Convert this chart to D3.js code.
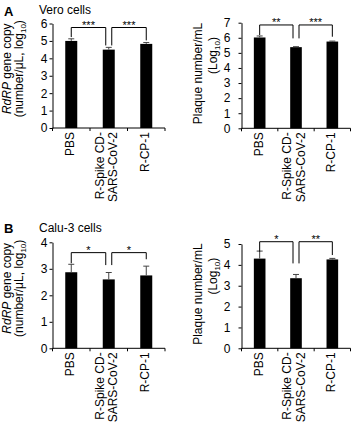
<!DOCTYPE html>
<meta charset="utf-8">
<head>
  <title>RdRP and plaque assays</title>
  <style>
    body { margin: 0; background: #fff; }
    text { font-family: "Liberation Sans", Arial, sans-serif; }
  </style>
  <script src="https://d3js.org/d3.v7.min.js"></script>
</head>
<body>
  <div id="content"></div>
  <script>
    // category labels (one entry per line)
    var categories = [["PBS"], ["R-Spike CD-", "SARS-CoV-2"], ["R-CP-1"]];

    // Vero cells
    var veroRdrp = [5.0, 4.5, 4.83];
    var veroRdrpErr = [0.12, 0.13, 0.08];
    var veroRdrpTicks = [0, 1, 2, 3, 4, 5, 6];
    var veroRdrpSig = [
      { from: 0, to: 1, label: "***", top: 5.77, ends: [5.22, 4.74] },
      { from: 1, to: 2, label: "***", top: 5.77, ends: [4.74, 5.03] }
    ];

    var veroPlaque = [6.02, 5.38, 5.75];
    var veroPlaqueErr = [0.1, 0.03, 0.03];
    var veroPlaqueTicks = [0, 1, 2, 3, 4, 5, 6, 7];
    var veroPlaqueSig = [
      { from: 0, to: 1, label: "**", top: 6.85, ends: [6.18, 5.96] },
      { from: 1, to: 2, label: "***", top: 6.85, ends: [5.96, 6.07] }
    ];

    // Calu-3 cells
    var caluRdrp = [2.87, 2.6, 2.75];
    var caluRdrpErr = [0.3, 0.26, 0.35];
    var caluRdrpTicks = [0, 1, 2, 3, 4];
    var caluRdrpSig = [
      { from: 0, to: 1, label: "*", top: 3.61, ends: [3.21, 3.14] },
      { from: 1, to: 2, label: "*", top: 3.61, ends: [3.14, 3.36] }
    ];

    var caluPlaque = [4.3, 3.36, 4.26];
    var caluPlaqueErr = [0.36, 0.18, 0.05];
    var caluPlaqueTicks = [0, 1, 2, 3, 4, 5];
    var caluPlaqueSig = [
      { from: 0, to: 1, label: "*", top: 5.11, ends: [4.63, 4.07] },
      { from: 1, to: 2, label: "**", top: 5.11, ends: [4.07, 4.47] }
    ];

    var svg = d3.select('#content').append('svg')
      .attr('width', 355)
      .attr('height', 433);

    svg.append('rect').attr('width', 355).attr('height', 433).attr('fill', '#fff');

    function drawPanel(p) {
      var g = svg.append('g');
      var x = d3.scaleBand()
        .domain(d3.range(categories.length))
        .range([p.left, p.right])
        .padding(0);
      var y = d3.scaleLinear()
        .domain([0, d3.max(p.ticks)])
        .range([p.bottom, p.top]);
      var bw = x.bandwidth() * 0.32;
      var cx = function (i) { return x(i) + x.bandwidth() / 2; };

      // bars
      g.selectAll('rect.bar').data(p.values).enter().append('rect')
        .attr('x', function (d, i) { return cx(i) - bw / 2; })
        .attr('y', function (d) { return y(d); })
        .attr('width', bw)
        .attr('height', function (d) { return y(0) - y(d); })
        .attr('fill', '#000');

      // error bars (upper only)
      p.values.forEach(function (d, i) {
        var e = p.errors[i];
        g.append('line')
          .attr('x1', cx(i)).attr('x2', cx(i))
          .attr('y1', y(d)).attr('y2', y(d + e))
          .attr('stroke', '#444').attr('stroke-width', 1);
        g.append('line')
          .attr('x1', cx(i) - 3).attr('x2', cx(i) + 3)
          .attr('y1', y(d + e)).attr('y2', y(d + e))
          .attr('stroke', '#444').attr('stroke-width', 1);
      });

      // y axis
      var yAxis = g.append('g')
        .attr('transform', 'translate(' + p.left + ',0)')
        .call(d3.axisLeft(y).tickValues(p.ticks).tickFormat(d3.format('d'))
          .tickSize(3).tickPadding(p.tickPad).tickSizeOuter(0));
      yAxis.select('.domain').attr('stroke', '#000');
      yAxis.selectAll('.tick line').attr('stroke', '#000');
      yAxis.selectAll('.tick text')
        .attr('font-size', 12)
        .attr('fill', '#000')
        .attr('font-family', '"Liberation Sans", Arial, sans-serif');

      // x axis: ticks between categories
      g.append('line')
        .attr('x1', p.left).attr('x2', p.right)
        .attr('y1', y(0)).attr('y2', y(0))
        .attr('stroke', '#000');
      d3.range(categories.length + 1).forEach(function (i) {
        var tx = i < categories.length ? x(i) : p.right;
        g.append('line')
          .attr('x1', tx).attr('x2', tx)
          .attr('y1', y(0)).attr('y2', y(0) + 3)
          .attr('stroke', '#000');
      });

      // category labels, rotated
      categories.forEach(function (lines, i) {
        var n = lines.length;
        lines.forEach(function (t, k) {
          var bx = cx(i) + 3 - (n - 1) * 8 + k * 13.5;
          g.append('text')
            .attr('transform', 'translate(' + bx + ',' + (y(0) + 4) + ') rotate(-90)')
            .attr('text-anchor', 'end')
            .attr('font-size', 12)
            .text(t);
        });
      });

      // significance brackets
      p.sig.forEach(function (s) {
        var x1 = cx(s.from) + (s.from === 1 ? 3 : 0);
        var x2 = cx(s.to) - (s.to === 1 ? 3 : 0);
        g.append('path')
          .attr('d', 'M' + x1 + ',' + y(s.ends[0]) + 'V' + y(s.top) + 'H' + x2 + 'V' + y(s.ends[1]))
          .attr('fill', 'none')
          .attr('stroke', '#000')
          .attr('stroke-width', 1);
        g.append('text')
          .attr('x', (x1 + x2) / 2)
          .attr('y', y(s.top) + 1)
          .attr('text-anchor', 'middle')
          .attr('font-size', 11)
          .text(s.label);
      });

      // y axis title
      var mid = (p.top + p.bottom) / 2;
      p.title.forEach(function (line) {
        var t = g.append('text')
          .attr('transform', 'translate(' + line.x + ',' + (mid + line.dy) + ') rotate(-90)')
          .attr('text-anchor', 'middle')
          .attr('font-size', 12);
        line.parts.forEach(function (part) {
          var ts = t.append('tspan').text(part.t);
          if (part.i) ts.attr('font-style', 'italic');
          if (part.sub) ts.attr('font-size', 8).attr('baseline-shift', '-3');
        });
      });
    }

    var rdrpTitle = function (x1, x2) {
      return [
        { x: x1, dy: -7, parts: [{ t: "RdRP", i: true }, { t: " gene copy" }] },
        { x: x2, dy: -7, parts: [{ t: "(number/\u03bcL, log" }, { t: "10", sub: true }, { t: ")" }] }
      ];
    };
    var plaqueTitle = function (x1, x2) {
      return [
        { x: x1, dy: -2, parts: [{ t: "Plaque number/mL" }] },
        { x: x2, dy: -20, parts: [{ t: "(Log" }, { t: "10", sub: true }, { t: ")" }] }
      ];
    };

    drawPanel({ left: 52.5, right: 165, top: 23.5, bottom: 128, tickPad: 2,
      ticks: veroRdrpTicks, values: veroRdrp, errors: veroRdrpErr, sig: veroRdrpSig, title: rdrpTitle(11, 23) });
    drawPanel({ left: 241.5, right: 350.5, top: 22.7, bottom: 128.3, tickPad: 8,
      ticks: veroPlaqueTicks, values: veroPlaque, errors: veroPlaqueErr, sig: veroPlaqueSig, title: plaqueTitle(202, 217) });
    drawPanel({ left: 52.5, right: 165, top: 242.3, bottom: 348.3, tickPad: 2,
      ticks: caluRdrpTicks, values: caluRdrp, errors: caluRdrpErr, sig: caluRdrpSig, title: rdrpTitle(11, 23) });
    drawPanel({ left: 241.5, right: 350.5, top: 244, bottom: 348.3, tickPad: 8,
      ticks: caluPlaqueTicks, values: caluPlaque, errors: caluPlaqueErr, sig: caluPlaqueSig, title: plaqueTitle(202, 217) });

    // panel letters and titles
    svg.append('text').attr('x', 4).attr('y', 15.5).attr('font-size', 13).attr('font-weight', 'bold').text('A');
    svg.append('text').attr('x', 39).attr('y', 13.5).attr('font-size', 12).text('Vero cells');
    svg.append('text').attr('x', 4).attr('y', 233).attr('font-size', 13).attr('font-weight', 'bold').text('B');
    svg.append('text').attr('x', 39).attr('y', 232).attr('font-size', 12).text('Calu-3 cells');
  </script>
</body>
</html>
